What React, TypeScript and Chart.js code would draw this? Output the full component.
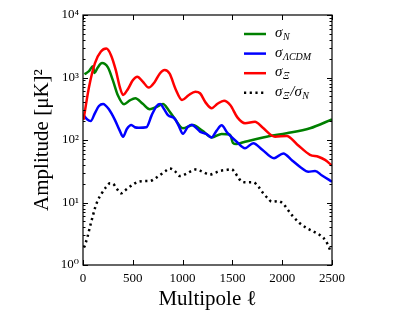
import React, { useEffect, useRef } from "react";
import { Chart, registerables } from "chart.js";

Chart.register(...registerables);

// sigma_N (green)
const nEll = [15, 60, 100, 115, 145, 191, 250, 300, 350, 412, 470, 525, 600, 670, 740, 803, 860, 920, 1004, 1104, 1200, 1292, 1392, 1476, 1505, 1540, 1610, 1844, 2045, 2279, 2500];
const nVal = [1130, 1260, 1520, 1180, 1420, 1700, 1450, 900, 520, 372, 430, 465, 380, 311, 340, 377, 300, 220, 154, 174, 140, 110, 125, 122, 90, 86, 92, 113, 128, 154, 214];

// sigma_LambdaCDM (blue)
const lEll = [5, 40, 77, 120, 160, 201, 260, 320, 370, 402, 440, 485, 520, 560, 636, 690, 740, 775, 810, 853, 920, 960, 1004, 1050, 1090, 1130, 1175, 1238, 1292, 1340, 1392, 1450, 1543, 1627, 1710, 1800, 1918, 2011, 2100, 2190, 2262, 2330, 2400, 2500];
const lVal = [250, 215, 201, 270, 350, 377, 310, 210, 140, 113, 150, 174, 160, 157, 160, 250, 350, 375, 320, 250, 220, 170, 126, 160, 176, 160, 136, 125, 110, 140, 172, 130, 94, 74, 89, 70, 51, 61, 47, 36, 31, 32, 27, 21.5];

// sigma_Xi (red)
const xEll = [5, 60, 120, 180, 234, 280, 330, 370, 402, 450, 500, 545, 600, 659, 720, 770, 820, 870, 930, 994, 1060, 1128, 1175, 1230, 1292, 1350, 1416, 1480, 1550, 1627, 1727, 1800, 1928, 2045, 2150, 2279, 2363, 2430, 2500];
const xVal = [210, 700, 1700, 2600, 2900, 2300, 1300, 700, 525, 650, 900, 1030, 860, 690, 850, 1150, 1320, 1150, 650, 437, 520, 592, 560, 400, 323, 380, 426, 360, 230, 185, 196, 160, 113, 116, 85, 58, 54, 48, 39];

// sigma_Xi / sigma_N (black dotted)
const rEll = [10, 45, 70, 95, 120, 150, 188, 230, 271, 300, 330, 360, 382, 420, 472, 555, 620, 670, 720, 773, 830, 873, 920, 974, 1040, 1090, 1141, 1200, 1275, 1330, 1375, 1430, 1493, 1520, 1560, 1593, 1650, 1710, 1760, 1810, 1860, 1894, 1961, 2011, 2060, 2112, 2180, 2246, 2320, 2380, 2440, 2490];
const rVal = [1.9, 2.8, 4.1, 5.8, 8.1, 11, 14, 17.5, 20.3, 20, 17.5, 15, 14, 15.5, 18, 21.5, 22, 22, 24, 27.5, 32, 35, 32, 26.5, 29, 32, 34, 31, 28, 30, 32, 33, 34, 31, 25, 21.5, 21, 21, 18, 14, 11.5, 10.3, 10.5, 9.5, 7.5, 5.9, 4.6, 3.9, 3.4, 3.0, 2.4, 1.6];

const xTicks = [0, 500, 1000, 1500, 2000, 2500];
const yTicks = [1, 10, 100, 1000, 10000];
const yTickLabels = ["10⁰", "10¹", "10²", "10³", "10⁴"];

const seriesColors = ["#008000", "#0000ff", "#ff0000", "#000000"];
const legendLabels: Array<Array<[string, boolean]>> = [
  [["σ", false], ["N", true]],
  [["σ", false], ["ΛCDM", true]],
  [["σ", false], ["Ξ", true]],
  [["σ", false], ["Ξ", true], ["/σ", false], ["N", true]],
];

const SERIF = "'Liberation Serif', 'DejaVu Serif', serif";

const toPts = (xs: number[], ys: number[]) => xs.map((x, i) => ({ x, y: ys[i] }));

const framePlugin = {
  id: "frame",
  afterDatasetsDraw(chart: any) {
    const { ctx, chartArea: a, scales } = chart;
    ctx.save();
    ctx.strokeStyle = "#000";
    ctx.lineWidth = 1;
    ctx.beginPath();
    for (const v of xTicks) {
      const px = Math.round(scales.x.getPixelForValue(v)) + 0.5;
      ctx.moveTo(px, a.bottom);
      ctx.lineTo(px, a.bottom - 5);
      ctx.moveTo(px, a.top);
      ctx.lineTo(px, a.top + 5);
    }
    for (let d = 0; d < yTicks.length; d++) {
      const base = yTicks[d];
      const py = Math.round(scales.y.getPixelForValue(base)) + 0.5;
      ctx.moveTo(a.left, py);
      ctx.lineTo(a.left + 5, py);
      ctx.moveTo(a.right, py);
      ctx.lineTo(a.right - 5, py);
      if (d < yTicks.length - 1) {
        for (let m = 2; m < 10; m++) {
          const pm = Math.round(scales.y.getPixelForValue(base * m)) + 0.5;
          ctx.moveTo(a.left, pm);
          ctx.lineTo(a.left + 2.5, pm);
          ctx.moveTo(a.right, pm);
          ctx.lineTo(a.right - 2.5, pm);
        }
      }
    }
    ctx.stroke();
    ctx.lineWidth = 1.2;
    ctx.strokeRect(a.left, a.top, a.right - a.left, a.bottom - a.top);
    ctx.restore();
  },
  afterDraw(chart: any) {
    const { ctx, chartArea: a } = chart;
    ctx.save();
    legendLabels.forEach((parts, i) => {
      const y = a.top + 19 + i * 19.6;
      ctx.strokeStyle = seriesColors[i];
      ctx.lineWidth = 2.5;
      ctx.setLineDash(i === 3 ? [2.2, 3.5] : []);
      ctx.beginPath();
      ctx.moveTo(a.right - 88, y);
      ctx.lineTo(a.right - 66, y);
      ctx.stroke();
      ctx.setLineDash([]);
      let x = a.right - 57;
      ctx.fillStyle = "#000";
      ctx.textBaseline = "alphabetic";
      for (const [t, sub] of parts) {
        ctx.font = sub ? `italic 10px ${SERIF}` : `italic 15px ${SERIF}`;
        ctx.fillText(t, x, sub ? y + 6 : y + 3);
        x += ctx.measureText(t).width + (sub ? 1 : 0.5);
      }
    });
    ctx.restore();
  },
};

export default function App() {
  const ref = useRef<HTMLCanvasElement | null>(null);
  useEffect(() => {
    if (!ref.current) return;
    const mk = (xs: number[], ys: number[], i: number, dotted = false) => ({
      data: toPts(xs, ys),
      borderColor: seriesColors[i],
      backgroundColor: seriesColors[i],
      borderWidth: 2.5,
      borderDash: dotted ? [2.2, 3.5] : [],
      pointRadius: 0,
      fill: false,
      cubicInterpolationMode: "monotone" as const,
      order: 4 - i,
    });
    const chart = new Chart(ref.current, {
      type: "line",
      data: {
        datasets: [
          mk(nEll, nVal, 0),
          mk(lEll, lVal, 1),
          mk(xEll, xVal, 2),
          mk(rEll, rVal, 3, true),
        ],
      },
      options: {
        animation: false,
        responsive: false,
        devicePixelRatio: 1,
        layout: { padding: { left: 0, top: 15, right: 83, bottom: 0 } },
        plugins: { legend: { display: false }, tooltip: { enabled: false } },
        scales: {
          x: {
            type: "linear",
            min: 0,
            max: 2500,
            afterBuildTicks: (s: any) => {
              s.ticks = xTicks.map((v) => ({ value: v }));
            },
            afterFit: (s: any) => {
              s.height = 67;
            },
            grid: { display: false, drawTicks: false },
            border: { display: false },
            ticks: {
              padding: 6,
              color: "#000",
              maxRotation: 0,
              font: { family: SERIF, size: 13 },
              callback: (v: any) => String(v),
            },
            title: {
              display: true,
              text: "Multipole ℓ",
              color: "#000",
              font: { family: SERIF, size: 21 },
              padding: { top: 0, bottom: 20 },
            },
          },
          y: {
            type: "logarithmic",
            min: 1,
            max: 10000,
            afterBuildTicks: (s: any) => {
              s.ticks = yTicks.map((v) => ({ value: v }));
            },
            afterFit: (s: any) => {
              s.width = 83;
            },
            grid: { display: false, drawTicks: false },
            border: { display: false },
            ticks: {
              padding: 4,
              color: "#000",
              font: { family: SERIF, size: 13 },
              callback: (v: any) => {
                const idx = yTicks.indexOf(Number(v));
                return idx >= 0 ? yTickLabels[idx] : "";
              },
            },
            title: {
              display: true,
              text: "Amplitude [μK]²",
              color: "#000",
              font: { family: SERIF, size: 21 },
              padding: { top: 30, bottom: 0 },
            },
          },
        },
      },
      plugins: [framePlugin],
    });
    return () => chart.destroy();
  }, []);
  return (
    <div style={{ position: "absolute", left: 0, top: 0, width: 415, height: 332, background: "#fff" }}>
      <canvas ref={ref} width={415} height={332} />
    </div>
  );
}
